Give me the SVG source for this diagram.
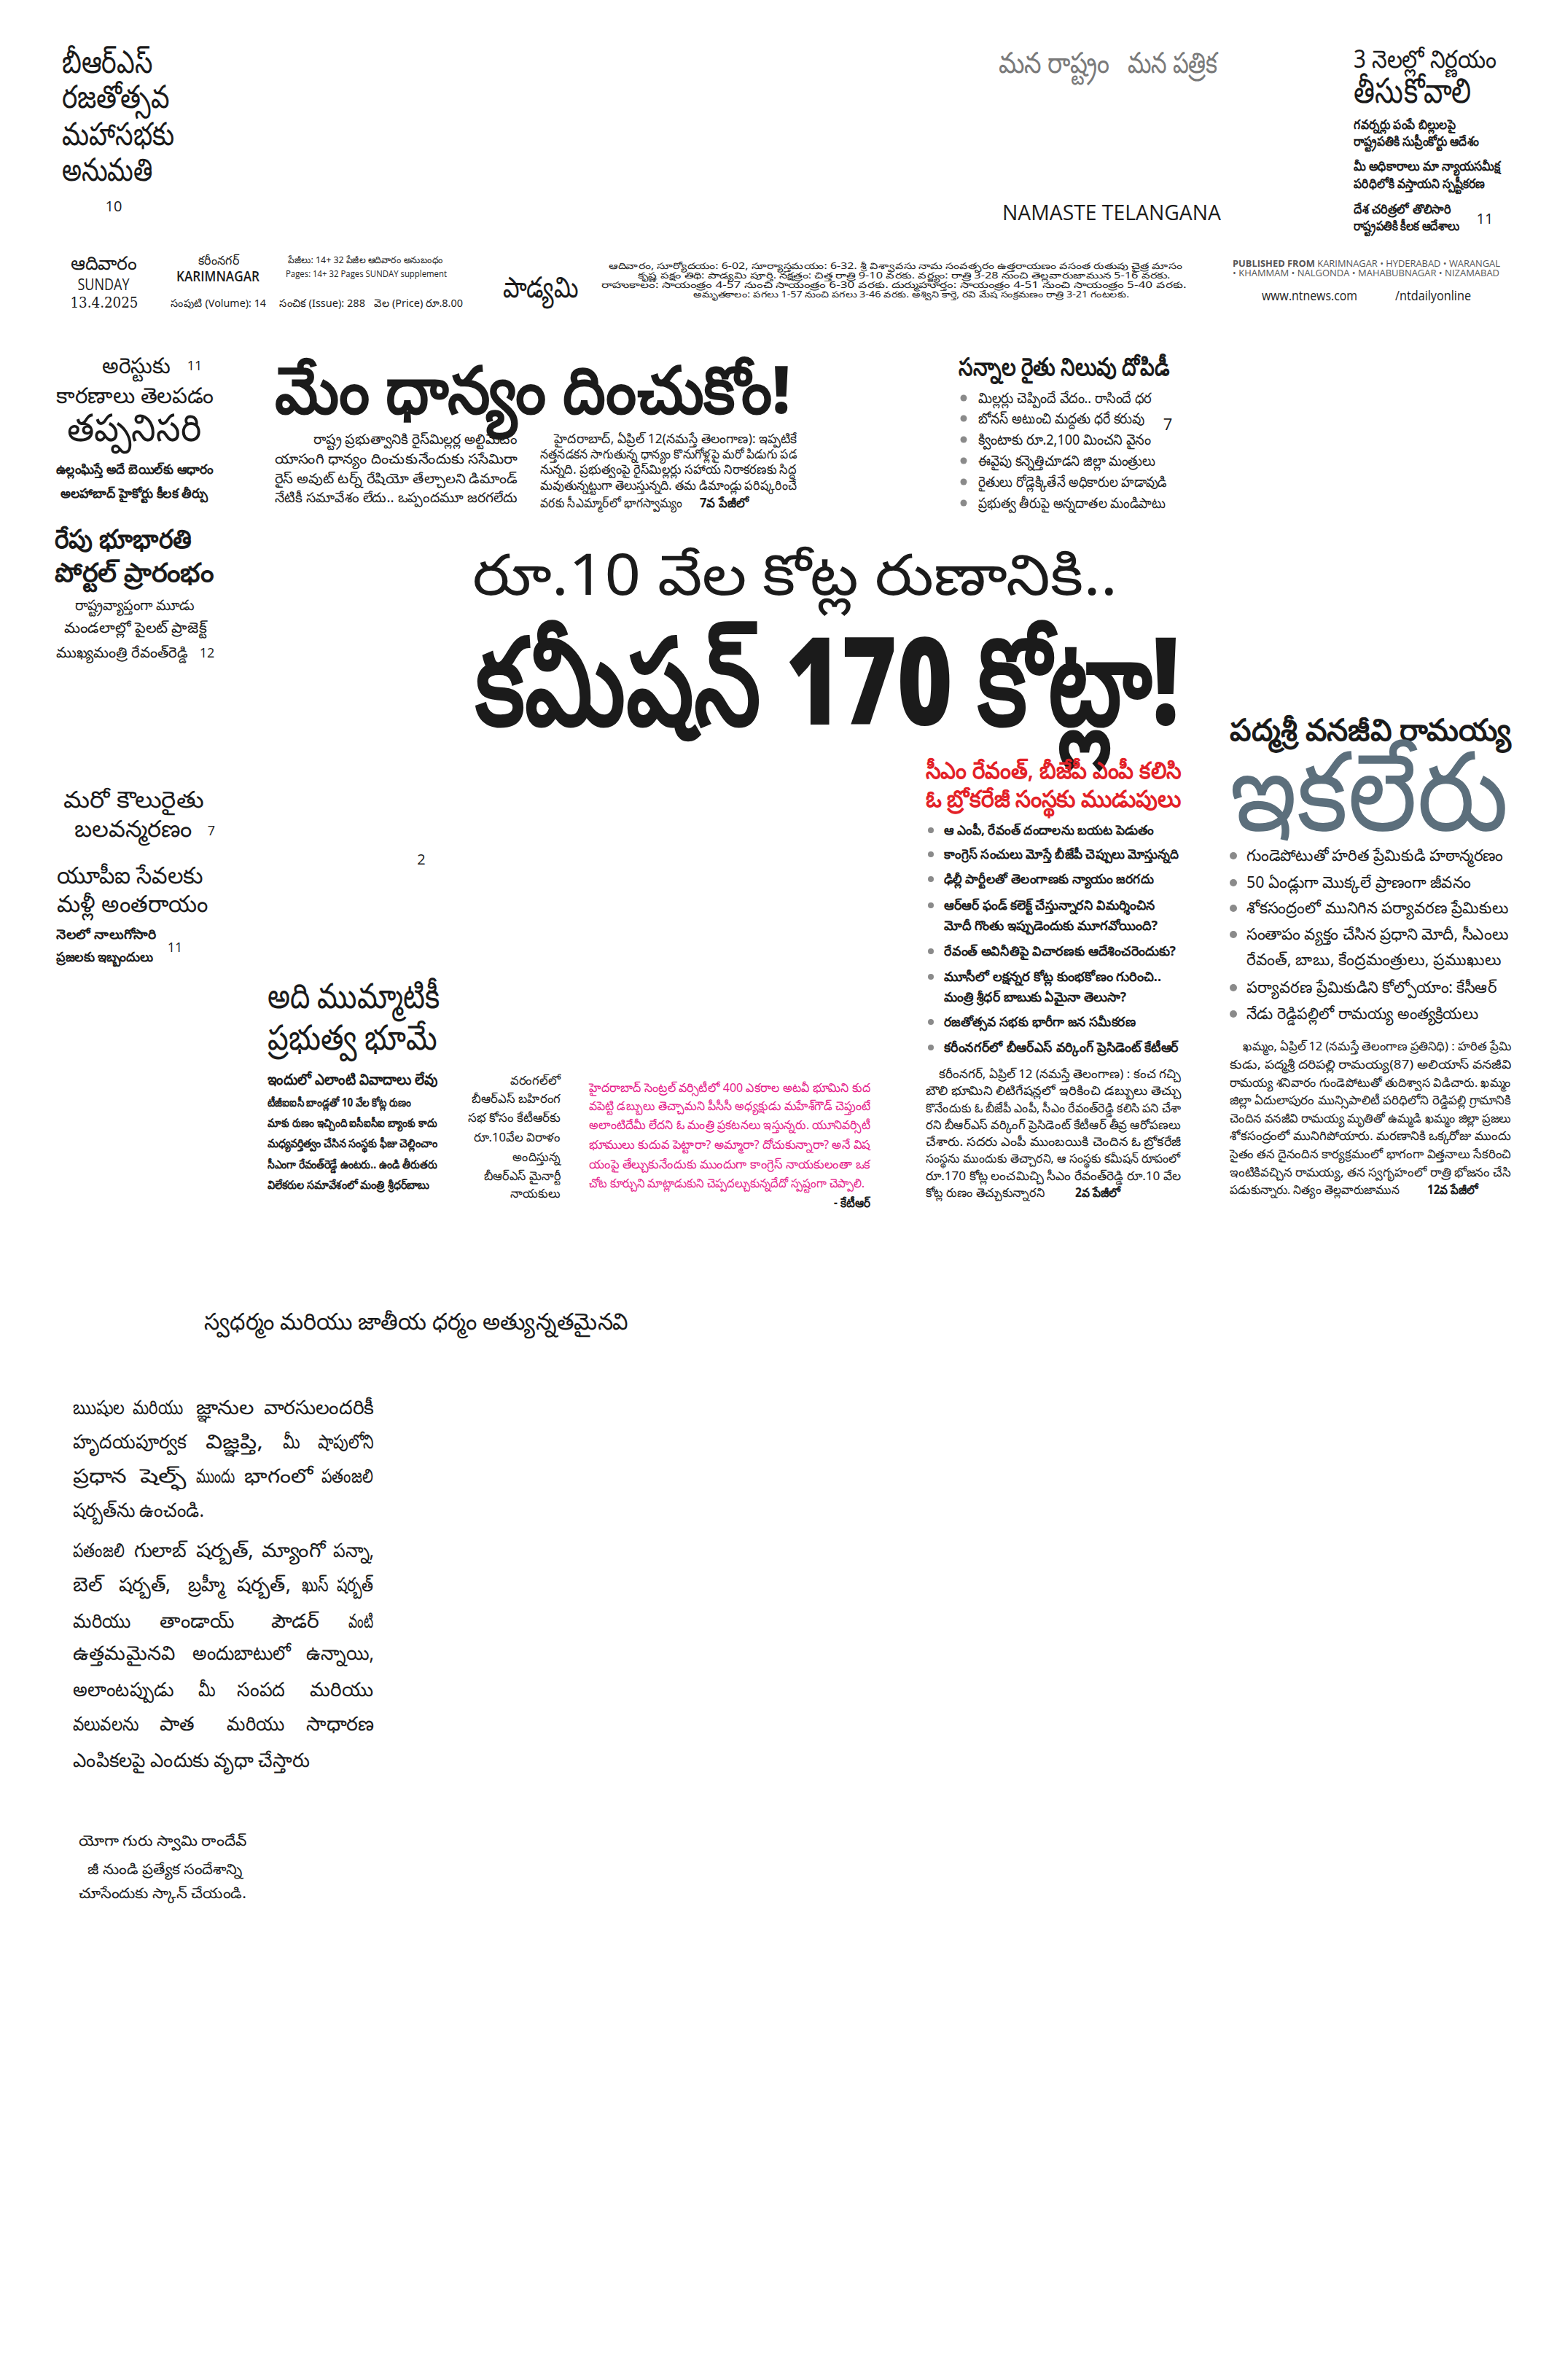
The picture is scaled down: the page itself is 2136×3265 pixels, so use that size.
<svg xmlns="http://www.w3.org/2000/svg" width="2136" height="3265" viewBox="0 0 2136 3265">
<style>
text{font-family:"Noto Sans","DejaVu Sans",sans-serif;fill:#1b1b1b}
.b{font-weight:700}
.k{font-weight:900}
.l{font-weight:400}
.m{text-anchor:middle}
.e{text-anchor:end}
.g{fill:#7a7a7a}
.r{fill:#e32127}
.p{fill:#e5198a}
.s{fill:#5c6f7c}
.lat{font-family:"Open Sans","Liberation Sans",sans-serif}
.ser{font-family:"DejaVu Serif","Liberation Serif",serif}
.dot{fill:#8a8a8a}
</style>
<rect x="0" y="0" width="2136" height="3265" fill="#ffffff"/>

<g id="masthead-left" class="l" font-size="44">
<text x="85" y="100" textLength="124" lengthAdjust="spacingAndGlyphs">బీఆర్ఎస్</text>
<text x="85" y="148" textLength="147" lengthAdjust="spacingAndGlyphs">రజతోత్సవ</text>
<text x="85" y="199" textLength="154" lengthAdjust="spacingAndGlyphs">మహాసభకు</text>
<text x="85" y="248" textLength="124" lengthAdjust="spacingAndGlyphs">అనుమతి</text>
<text x="156" y="290" class="m lat" font-size="20">10</text>
</g>

<g id="masthead-center">
<text x="1370" y="100" class="g l" font-size="40" textLength="152" lengthAdjust="spacingAndGlyphs">మన రాష్ట్రం</text>
<text x="1547" y="100" class="g l" font-size="40" textLength="123" lengthAdjust="spacingAndGlyphs">మన పత్రిక</text>
<text x="1375" y="302" class="lat" font-size="29" fill="#222" textLength="300" lengthAdjust="spacingAndGlyphs">NAMASTE TELANGANA</text>
</g>

<g id="masthead-right">
<text x="1857" y="93" font-size="34" textLength="196" lengthAdjust="spacingAndGlyphs">3 నెలల్లో నిర్ణయం</text>
<text x="1857" y="141" font-size="48" textLength="161" lengthAdjust="spacingAndGlyphs">తీసుకోవాలి</text>
<g class="b" font-size="18">
<text x="1857" y="177" textLength="140" lengthAdjust="spacingAndGlyphs">గవర్నర్లు పంపే బిల్లులపై</text>
<text x="1857" y="200" textLength="172" lengthAdjust="spacingAndGlyphs">రాష్ట్రపతికి సుప్రీంకోర్టు ఆదేశం</text>
<text x="1857" y="234" textLength="201" lengthAdjust="spacingAndGlyphs">మీ అధికారాలు మా న్యాయసమీక్ష</text>
<text x="1857" y="258" textLength="180" lengthAdjust="spacingAndGlyphs">పరిధిలోకి వస్తాయని స్పష్టీకరణ</text>
<text x="1857" y="293" textLength="134" lengthAdjust="spacingAndGlyphs">దేశ చరిత్రలో తొలిసారి</text>
<text x="1857" y="316" textLength="145" lengthAdjust="spacingAndGlyphs">రాష్ట్రపతికి కీలక ఆదేశాలు</text>
</g>
<text x="2037" y="307" class="m lat" font-size="20">11</text>
</g>

<g id="dateline">
<text x="142" y="370" class="m" font-size="26" textLength="91" lengthAdjust="spacingAndGlyphs">ఆదివారం</text>
<text x="142" y="398" class="m lat" font-size="21" font-weight="500" textLength="71" lengthAdjust="spacingAndGlyphs">SUNDAY</text>
<text x="143" y="422" class="m ser" font-size="21" textLength="93" lengthAdjust="spacingAndGlyphs">13.4.2025</text>
<text x="300" y="363" class="m" font-size="17" textLength="56" lengthAdjust="spacingAndGlyphs">కరీంనగర్</text>
<text x="299" y="386" class="m lat" font-size="20" font-weight="600" textLength="114" lengthAdjust="spacingAndGlyphs">KARIMNAGAR</text>
<text x="395" y="361" font-size="13" textLength="213" lengthAdjust="spacingAndGlyphs">పేజీలు: 14+ 32 పేజీల ఆదివారం అనుబంధం</text>
<text x="392" y="380" class="lat" font-size="13" textLength="221" lengthAdjust="spacingAndGlyphs">Pages: 14+ 32 Pages SUNDAY supplement</text>
<text x="234" y="421" font-size="15" textLength="131" lengthAdjust="spacingAndGlyphs">సంపుటి (Volume): 14</text>
<text x="383" y="421" font-size="15" textLength="118" lengthAdjust="spacingAndGlyphs">సంచిక (Issue): 288</text>
<text x="513" y="421" font-size="15" textLength="122" lengthAdjust="spacingAndGlyphs">వెల (Price) రూ.8.00</text>
<text x="690" y="408" class="l" font-size="40" textLength="103" lengthAdjust="spacingAndGlyphs">పాడ్యమి</text>
<g class="m" font-size="12">
<text x="1228" y="369" textLength="787" lengthAdjust="spacingAndGlyphs">ఆదివారం, సూర్యోదయం: 6-02, సూర్యాస్తమయం: 6-32. శ్రీ విశ్వావసు నామ సంవత్సరం ఉత్తరాయణం వసంత రుతువు చైత్ర మాసం</text>
<text x="1240" y="382" textLength="731" lengthAdjust="spacingAndGlyphs">కృష్ణ పక్షం తిథి: పాడ్యమి పూర్తి. నక్షత్రం: చిత్త రాత్రి 9-10 వరకు. వర్జ్యం: రాత్రి 3-28 నుంచి తెల్లవారుజామున 5-16 వరకు.</text>
<text x="1226" y="395" textLength="803" lengthAdjust="spacingAndGlyphs">రాహుకాలం: సాయంత్రం 4-57 నుంచి సాయంత్రం 6-30 వరకు. దుర్ముహూర్తం: సాయంత్రం 4-51 నుంచి సాయంత్రం 5-40 వరకు.</text>
<text x="1250" y="408" textLength="598" lengthAdjust="spacingAndGlyphs">అమృతకాలం: పగలు 1-57 నుంచి పగలు 3-46 వరకు. అశ్విని కార్తె, రవి మేష సంక్రమణం రాత్రి 3-21 గంటలకు.</text>
</g>
<text x="1691" y="366" class="lat" font-size="13" style="fill:#555" textLength="367" lengthAdjust="spacingAndGlyphs"><tspan font-weight="700">PUBLISHED FROM</tspan> KARIMNAGAR • HYDERABAD • WARANGAL</text>
<text x="1691" y="379" class="lat" font-size="13" style="fill:#555" textLength="366" lengthAdjust="spacingAndGlyphs">• KHAMMAM • NALGONDA • MAHABUBNAGAR • NIZAMABAD</text>
<text x="1731" y="412" class="lat" font-size="18" textLength="131" lengthAdjust="spacingAndGlyphs">www.ntnews.com</text>
<text x="1914" y="412" class="lat" font-size="18" textLength="104" lengthAdjust="spacingAndGlyphs">/ntdailyonline</text>
</g>

<g id="left-column">
<text x="140" y="512" class="l" font-size="30" textLength="93" lengthAdjust="spacingAndGlyphs">అరెస్టుకు</text>
<text x="267" y="508" class="m lat" font-size="18">11</text>
<text x="77" y="553" class="l" font-size="30" textLength="216" lengthAdjust="spacingAndGlyphs">కారణాలు తెలపడం</text>
<text x="92" y="605" font-size="52" textLength="185" lengthAdjust="spacingAndGlyphs">తప్పనిసరి</text>
<text x="77" y="650" class="b" font-size="18" textLength="216" lengthAdjust="spacingAndGlyphs">ఉల్లంఘిస్తే అదే బెయిల్‌కు ఆధారం</text>
<text x="83" y="683" class="b" font-size="18" textLength="202" lengthAdjust="spacingAndGlyphs">అలహాబాద్ హైకోర్టు కీలక తీర్పు</text>
<text x="75" y="752" class="k" font-size="36" textLength="188" lengthAdjust="spacingAndGlyphs">రేపు భూభారతి</text>
<text x="75" y="798" class="k" font-size="36" textLength="218" lengthAdjust="spacingAndGlyphs">పోర్టల్ ప్రారంభం</text>
<text x="103" y="837" class="l" font-size="20" textLength="164" lengthAdjust="spacingAndGlyphs">రాష్ట్రవ్యాప్తంగా మూడు</text>
<text x="88" y="868" class="l" font-size="20" textLength="195" lengthAdjust="spacingAndGlyphs">మండలాల్లో పైలట్ ప్రాజెక్ట్</text>
<text x="77" y="902" class="l" font-size="20" textLength="181" lengthAdjust="spacingAndGlyphs">ముఖ్యమంత్రి రేవంత్‌రెడ్డి</text>
<text x="284" y="902" class="m lat" font-size="18">12</text>
<text x="87" y="1108" class="l" font-size="32" textLength="193" lengthAdjust="spacingAndGlyphs">మరో కౌలురైతు</text>
<text x="102" y="1148" class="l" font-size="32" textLength="161" lengthAdjust="spacingAndGlyphs">బలవన్మరణం</text>
<text x="290" y="1146" class="m lat" font-size="18">7</text>
<text x="78" y="1212" class="l" font-size="32" textLength="200" lengthAdjust="spacingAndGlyphs">యూపీఐ సేవలకు</text>
<text x="78" y="1251" class="l" font-size="32" textLength="207" lengthAdjust="spacingAndGlyphs">మళ్లీ అంతరాయం</text>
<text x="77" y="1288" class="b" font-size="18" textLength="138" lengthAdjust="spacingAndGlyphs">నెలలో నాలుగోసారి</text>
<text x="77" y="1319" class="b" font-size="18" textLength="133" lengthAdjust="spacingAndGlyphs">ప్రజలకు ఇబ్బందులు</text>
<text x="240" y="1306" class="m lat" font-size="18">11</text>
</g>

<g id="story-paddy">
<text x="377" y="567" class="k" font-size="90" textLength="707" lengthAdjust="spacingAndGlyphs">మేం ధాన్యం దించుకోం!</text>
<g font-size="19">
<text x="430" y="609" textLength="280" lengthAdjust="spacingAndGlyphs">రాష్ట్ర ప్రభుత్వానికి రైస్‌మిల్లర్ల అల్టిమేటం</text>
<text x="377" y="636" textLength="333" lengthAdjust="spacingAndGlyphs">యాసంగి ధాన్యం దించుకునేందుకు ససేమిరా</text>
<text x="377" y="663" textLength="333" lengthAdjust="spacingAndGlyphs">రైస్ అవుట్ టర్న్ రేషియో తేల్చాలని డిమాండ్</text>
<text x="377" y="689" textLength="333" lengthAdjust="spacingAndGlyphs">నేటికీ సమావేశం లేదు.. ఒప్పందమూ జరగలేదు</text>
</g>
<g font-size="18">
<text x="760" y="608" textLength="333" lengthAdjust="spacingAndGlyphs">హైదరాబాద్, ఏప్రిల్ 12(నమస్తే తెలంగాణ): ఇప్పటికే</text>
<text x="741" y="629" textLength="352" lengthAdjust="spacingAndGlyphs">నత్తనడకన సాగుతున్న ధాన్యం కొనుగోళ్లపై మరో పిడుగు పడ</text>
<text x="741" y="650" textLength="352" lengthAdjust="spacingAndGlyphs">నున్నది. ప్రభుత్వంపై రైస్‌మిల్లర్లు సహాయ నిరాకరణకు సిద్ధ</text>
<text x="741" y="672" textLength="352" lengthAdjust="spacingAndGlyphs">మవుతున్నట్టుగా తెలుస్తున్నది. తమ డిమాండ్లు పరిష్కరించే</text>
<text x="741" y="696" textLength="195" lengthAdjust="spacingAndGlyphs">వరకు సీఎమ్మార్‌లో భాగస్వామ్యం</text>
<text x="960" y="696" class="b" textLength="67" lengthAdjust="spacingAndGlyphs">7వ పేజీలో</text>
</g>
</g>

<g id="story-sannalu">
<text x="1315" y="515" class="k" font-size="34" textLength="289" lengthAdjust="spacingAndGlyphs">సన్నాల రైతు నిలువు దోపిడీ</text>
<circle class="dot" cx="1322" cy="546" r="4.5"/>
<circle class="dot" cx="1322" cy="574" r="4.5"/>
<circle class="dot" cx="1322" cy="603" r="4.5"/>
<circle class="dot" cx="1322" cy="632" r="4.5"/>
<circle class="dot" cx="1322" cy="661" r="4.5"/>
<circle class="dot" cx="1322" cy="690" r="4.5"/>
<g class="l" font-size="20">
<text x="1342" y="553" textLength="238" lengthAdjust="spacingAndGlyphs">మిల్లర్లు చెప్పిందే వేదం.. రాసిందే ధర</text>
<text x="1342" y="581" textLength="228" lengthAdjust="spacingAndGlyphs">బోనస్ అటుంచి మద్దతు ధరే కరువు</text>
<text x="1342" y="610" textLength="237" lengthAdjust="spacingAndGlyphs">క్వింటాకు రూ.2,100 మించని వైనం</text>
<text x="1342" y="639" textLength="243" lengthAdjust="spacingAndGlyphs">ఈవైపు కన్నెత్తిచూడని జిల్లా మంత్రులు</text>
<text x="1342" y="668" textLength="259" lengthAdjust="spacingAndGlyphs">రైతులు రోడ్లెక్కితేనే అధికారుల హడావుడి</text>
<text x="1342" y="697" textLength="257" lengthAdjust="spacingAndGlyphs">ప్రభుత్వ తీరుపై అన్నదాతల మండిపాటు</text>
</g>
<text x="1602" y="590" class="m lat" font-size="22">7</text>
</g>

<g id="lead-headline">
<text x="648" y="816" font-size="78" textLength="885" lengthAdjust="spacingAndGlyphs">రూ.10 వేల కోట్ల రుణానికి..</text>
<text x="652" y="994" class="k" font-size="166" textLength="966" lengthAdjust="spacingAndGlyphs">కమీషన్ 170 కోట్లా!</text>
<text x="578" y="1186" class="m lat" font-size="20">2</text>
</g>

<g id="lead-story">
<text x="1270" y="1068" class="r" font-size="32" font-weight="600" textLength="350" lengthAdjust="spacingAndGlyphs">సీఎం రేవంత్, బీజేపీ ఎంపీ కలిసి</text>
<text x="1270" y="1107" class="r" font-size="32" font-weight="600" textLength="350" lengthAdjust="spacingAndGlyphs">ఓ బ్రోకరేజీ సంస్థకు ముడుపులు</text>
<circle class="dot" cx="1277" cy="1139" r="4"/>
<circle class="dot" cx="1277" cy="1172" r="4"/>
<circle class="dot" cx="1277" cy="1206" r="4"/>
<circle class="dot" cx="1277" cy="1242" r="4"/>
<circle class="dot" cx="1277" cy="1305" r="4"/>
<circle class="dot" cx="1277" cy="1340" r="4"/>
<circle class="dot" cx="1277" cy="1402" r="4"/>
<circle class="dot" cx="1277" cy="1437" r="4"/>
<g class="b" font-size="18">
<text x="1295" y="1145" textLength="288" lengthAdjust="spacingAndGlyphs">ఆ ఎంపీ, రేవంత్ దందాలను బయట పెడుతం</text>
<text x="1295" y="1178" textLength="322" lengthAdjust="spacingAndGlyphs">కాంగ్రెస్ సంచులు మోస్తే బీజేపీ చెప్పులు మోస్తున్నది</text>
<text x="1295" y="1212" textLength="288" lengthAdjust="spacingAndGlyphs">ఢిల్లీ పార్టీలతో తెలంగాణకు న్యాయం జరగదు</text>
<text x="1295" y="1248" textLength="290" lengthAdjust="spacingAndGlyphs">ఆర్‌ఆర్ ఫండ్ కలెక్ట్ చేస్తున్నారని విమర్శించిన</text>
<text x="1295" y="1276" textLength="293" lengthAdjust="spacingAndGlyphs">మోదీ గొంతు ఇప్పుడెందుకు మూగవోయింది?</text>
<text x="1295" y="1311" textLength="318" lengthAdjust="spacingAndGlyphs">రేవంత్ అవినీతిపై విచారణకు ఆదేశించరెందుకు?</text>
<text x="1295" y="1346" textLength="298" lengthAdjust="spacingAndGlyphs">మూసీలో లక్షన్నర కోట్ల కుంభకోణం గురించి..</text>
<text x="1295" y="1374" textLength="250" lengthAdjust="spacingAndGlyphs">మంత్రి శ్రీధర్ బాబుకు ఏమైనా తెలుసా?</text>
<text x="1295" y="1408" textLength="263" lengthAdjust="spacingAndGlyphs">రజతోత్సవ సభకు భారీగా జన సమీకరణ</text>
<text x="1295" y="1443" textLength="322" lengthAdjust="spacingAndGlyphs">కరీంనగర్‌లో బీఆర్‌ఎస్ వర్కింగ్ ప్రెసిడెంట్ కేటీఆర్</text>
</g>
<g class="l" font-size="17">
<text x="1288" y="1479" textLength="332" lengthAdjust="spacingAndGlyphs">కరీంనగర్, ఏప్రిల్ 12 (నమస్తే తెలంగాణ) : కంచ గచ్చి</text>
<text x="1270" y="1502" textLength="350" lengthAdjust="spacingAndGlyphs">బౌలి భూమిని లిటిగేషన్లలో ఇరికించి డబ్బులు తెచ్చు</text>
<text x="1270" y="1526" textLength="350" lengthAdjust="spacingAndGlyphs">కొనేందుకు ఓ బీజేపీ ఎంపీ, సీఎం రేవంత్‌రెడ్డి కలిసి పని చేశా</text>
<text x="1270" y="1549" textLength="350" lengthAdjust="spacingAndGlyphs">రని బీఆర్‌ఎస్ వర్కింగ్ ప్రెసిడెంట్ కేటీఆర్ తీవ్ర ఆరోపణలు</text>
<text x="1270" y="1572" textLength="350" lengthAdjust="spacingAndGlyphs">చేశారు. సదరు ఎంపీ ముంబయికి చెందిన ఓ బ్రోకరేజీ</text>
<text x="1270" y="1595" textLength="350" lengthAdjust="spacingAndGlyphs">సంస్థను ముందుకు తెచ్చారని, ఆ సంస్థకు కమీషన్ రూపంలో</text>
<text x="1270" y="1619" textLength="350" lengthAdjust="spacingAndGlyphs">రూ.170 కోట్ల లంచమిచ్చి సీఎం రేవంత్‌రెడ్డి రూ.10 వేల</text>
<text x="1270" y="1642" textLength="163" lengthAdjust="spacingAndGlyphs">కోట్ల రుణం తెచ్చుకున్నారని</text>
<text x="1475" y="1642" class="b" textLength="62" lengthAdjust="spacingAndGlyphs">2వ పేజీలో</text>
</g>
</g>

<g id="story-vanajeevi">
<text x="1687" y="1016" class="k" font-size="42" textLength="386" lengthAdjust="spacingAndGlyphs">పద్మశ్రీ వనజీవి రామయ్య</text>
<text x="1687" y="1139" class="s" font-size="150" font-weight="500" textLength="383" lengthAdjust="spacingAndGlyphs">ఇకలేరు</text>
<circle class="dot" cx="1692" cy="1174" r="5"/>
<circle class="dot" cx="1692" cy="1211" r="5"/>
<circle class="dot" cx="1692" cy="1246" r="5"/>
<circle class="dot" cx="1692" cy="1282" r="5"/>
<circle class="dot" cx="1692" cy="1355" r="5"/>
<circle class="dot" cx="1692" cy="1391" r="5"/>
<g class="l" font-size="22">
<text x="1710" y="1181" textLength="352" lengthAdjust="spacingAndGlyphs">గుండెపోటుతో హరిత ప్రేమికుడి హఠాన్మరణం</text>
<text x="1710" y="1218" textLength="308" lengthAdjust="spacingAndGlyphs">50 ఏండ్లుగా మొక్కలే ప్రాణంగా జీవనం</text>
<text x="1710" y="1253" textLength="360" lengthAdjust="spacingAndGlyphs">శోకసంద్రంలో మునిగిన పర్యావరణ ప్రేమికులు</text>
<text x="1710" y="1289" textLength="360" lengthAdjust="spacingAndGlyphs">సంతాపం వ్యక్తం చేసిన ప్రధాని మోదీ, సీఎంలు</text>
<text x="1710" y="1324" textLength="350" lengthAdjust="spacingAndGlyphs">రేవంత్, బాబు, కేంద్రమంత్రులు, ప్రముఖులు</text>
<text x="1710" y="1362" textLength="343" lengthAdjust="spacingAndGlyphs">పర్యావరణ ప్రేమికుడిని కోల్పోయాం: కేసీఆర్</text>
<text x="1710" y="1398" textLength="318" lengthAdjust="spacingAndGlyphs">నేడు రెడ్డిపల్లిలో రామయ్య అంత్యక్రియలు</text>
</g>
<g class="l" font-size="17">
<text x="1705" y="1441" textLength="368" lengthAdjust="spacingAndGlyphs">ఖమ్మం, ఏప్రిల్ 12 (నమస్తే తెలంగాణ ప్రతినిధి) : హరిత ప్రేమి</text>
<text x="1687" y="1466" textLength="386" lengthAdjust="spacingAndGlyphs">కుడు, పద్మశ్రీ దరిపల్లి రామయ్య(87) అలియాస్ వనజీవి</text>
<text x="1687" y="1491" textLength="386" lengthAdjust="spacingAndGlyphs">రామయ్య శనివారం గుండెపోటుతో తుదిశ్వాస విడిచారు. ఖమ్మం</text>
<text x="1687" y="1515" textLength="386" lengthAdjust="spacingAndGlyphs">జిల్లా ఏదులాపురం మున్సిపాలిటీ పరిధిలోని రెడ్డిపల్లి గ్రామానికి</text>
<text x="1687" y="1540" textLength="386" lengthAdjust="spacingAndGlyphs">చెందిన వనజీవి రామయ్య మృతితో ఉమ్మడి ఖమ్మం జిల్లా ప్రజలు</text>
<text x="1687" y="1564" textLength="386" lengthAdjust="spacingAndGlyphs">శోకసంద్రంలో మునిగిపోయారు. మరణానికి ఒక్కరోజు ముందు</text>
<text x="1687" y="1589" textLength="386" lengthAdjust="spacingAndGlyphs">సైతం తన దైనందిన కార్యక్రమంలో భాగంగా విత్తనాలు సేకరించి</text>
<text x="1687" y="1614" textLength="386" lengthAdjust="spacingAndGlyphs">ఇంటికివచ్చిన రామయ్య, తన స్వగృహంలో రాత్రి భోజనం చేసి</text>
<text x="1687" y="1638" textLength="233" lengthAdjust="spacingAndGlyphs">పడుకున్నారు. నిత్యం తెల్లవారుజామున</text>
<text x="1958" y="1638" class="b" textLength="70" lengthAdjust="spacingAndGlyphs">12వ పేజీలో</text>
</g>
</g>

<g id="story-land">
<text x="367" y="1383" class="l" font-size="48" textLength="236" lengthAdjust="spacingAndGlyphs">అది ముమ్మాటికీ</text>
<text x="367" y="1440" class="l" font-size="48" textLength="233" lengthAdjust="spacingAndGlyphs">ప్రభుత్వ భూమే</text>
<text x="367" y="1488" class="b" font-size="21" textLength="233" lengthAdjust="spacingAndGlyphs">ఇందులో ఎలాంటి వివాదాలు లేవు</text>
<g class="b" font-size="16">
<text x="367" y="1518" textLength="197" lengthAdjust="spacingAndGlyphs">టీజీఐఐసీ బాండ్లతో 10 వేల కోట్ల రుణం</text>
<text x="367" y="1546" textLength="233" lengthAdjust="spacingAndGlyphs">మాకు రుణం ఇచ్చింది ఐసీఐసీఐ బ్యాంకు కాదు</text>
<text x="367" y="1574" textLength="233" lengthAdjust="spacingAndGlyphs">మధ్యవర్తిత్వం చేసిన సంస్థకు ఫీజు చెల్లించాం</text>
<text x="367" y="1603" textLength="233" lengthAdjust="spacingAndGlyphs">సీఎంగా రేవంత్‌రెడ్డే ఉంటరు.. ఉండి తీరుతరు</text>
<text x="367" y="1631" textLength="222" lengthAdjust="spacingAndGlyphs">విలేకరుల సమావేశంలో మంత్రి శ్రీధర్‌బాబు</text>
</g>
</g>

<g id="photo-caption" class="e l" font-size="17">
<text x="769" y="1488" textLength="69" lengthAdjust="spacingAndGlyphs">వరంగల్‌లో</text>
<text x="769" y="1513" textLength="122" lengthAdjust="spacingAndGlyphs">బీఆర్‌ఎస్ బహిరంగ</text>
<text x="769" y="1539" textLength="127" lengthAdjust="spacingAndGlyphs">సభ కోసం కేటీఆర్‌కు</text>
<text x="769" y="1566" textLength="119" lengthAdjust="spacingAndGlyphs">రూ.10వేల విరాళం</text>
<text x="769" y="1593" textLength="66" lengthAdjust="spacingAndGlyphs">అందిస్తున్న</text>
<text x="769" y="1619" textLength="105" lengthAdjust="spacingAndGlyphs">బీఆర్‌ఎస్ మైనార్టీ</text>
<text x="769" y="1643" textLength="69" lengthAdjust="spacingAndGlyphs">నాయకులు</text>
</g>

<g id="quote-ktr" font-size="17">
<text x="808" y="1498" class="p" textLength="386" lengthAdjust="spacingAndGlyphs">హైదరాబాద్ సెంట్రల్ వర్సిటీలో 400 ఎకరాల అటవీ భూమిని కుద</text>
<text x="808" y="1523" class="p" textLength="386" lengthAdjust="spacingAndGlyphs">వపెట్టి డబ్బులు తెచ్చామని పీసీసీ అధ్యక్షుడు మహేశ్‌గౌడ్ చెప్తుంటే</text>
<text x="808" y="1549" class="p" textLength="386" lengthAdjust="spacingAndGlyphs">అలాంటిదేమీ లేదని ఓ మంత్రి ప్రకటనలు ఇస్తున్నరు. యూనివర్సిటీ</text>
<text x="808" y="1576" class="p" textLength="386" lengthAdjust="spacingAndGlyphs">భూములు కుదువ పెట్టారా? అమ్మారా? దోచుకున్నారా? అనే విష</text>
<text x="808" y="1603" class="p" textLength="386" lengthAdjust="spacingAndGlyphs">యంపై తేల్చుకునేందుకు ముందుగా కాంగ్రెస్ నాయకులంతా ఒక</text>
<text x="808" y="1629" class="p" textLength="378" lengthAdjust="spacingAndGlyphs">చోట కూర్చుని మాట్లాడుకుని చెప్పదల్చుకున్నదేదో స్పష్టంగా చెప్పాలి.</text>
<text x="1194" y="1656" class="b e" textLength="50" lengthAdjust="spacingAndGlyphs">- కేటీఆర్</text>
</g>

<g id="advert">
<text x="280" y="1824" font-size="32" textLength="582" lengthAdjust="spacingAndGlyphs">స్వధర్మం మరియు జాతీయ ధర్మం అత్యున్నతమైనవి</text>
<g font-size="27">
<text x="100" y="1940" textLength="71" lengthAdjust="spacingAndGlyphs">ఋషుల</text>
<text x="182" y="1940" textLength="69" lengthAdjust="spacingAndGlyphs">మరియు</text>
<text x="269" y="1940" textLength="79" lengthAdjust="spacingAndGlyphs">జ్ఞానుల</text>
<text x="362" y="1940" textLength="151" lengthAdjust="spacingAndGlyphs">వారసులందరికీ</text>
<text x="100" y="1987" textLength="156" lengthAdjust="spacingAndGlyphs">హృదయపూర్వక</text>
<text x="282" y="1987" textLength="79" lengthAdjust="spacingAndGlyphs">విజ్ఞప్తి,</text>
<text x="388" y="1987" textLength="24" lengthAdjust="spacingAndGlyphs">మీ</text>
<text x="436" y="1987" textLength="77" lengthAdjust="spacingAndGlyphs">షాపులోని</text>
<text x="100" y="2034" textLength="74" lengthAdjust="spacingAndGlyphs">ప్రధాన</text>
<text x="192" y="2034" textLength="63" lengthAdjust="spacingAndGlyphs">షెల్ఫ్</text>
<text x="269" y="2034" textLength="53" lengthAdjust="spacingAndGlyphs">ముందు</text>
<text x="335" y="2034" textLength="95" lengthAdjust="spacingAndGlyphs">భాగంలో</text>
<text x="441" y="2034" textLength="71" lengthAdjust="spacingAndGlyphs">పతంజలి</text>
<text x="100" y="2081" textLength="180" lengthAdjust="spacingAndGlyphs">షర్బత్‌ను ఉంచండి.</text>
<text x="100" y="2136" textLength="71" lengthAdjust="spacingAndGlyphs">పతంజలి</text>
<text x="184" y="2136" textLength="71" lengthAdjust="spacingAndGlyphs">గులాబ్</text>
<text x="269" y="2136" textLength="79" lengthAdjust="spacingAndGlyphs">షర్బత్,</text>
<text x="359" y="2136" textLength="87" lengthAdjust="spacingAndGlyphs">మ్యాంగో</text>
<text x="457" y="2136" textLength="56" lengthAdjust="spacingAndGlyphs">పన్నా,</text>
<text x="100" y="2183" textLength="40" lengthAdjust="spacingAndGlyphs">బెల్</text>
<text x="163" y="2183" textLength="71" lengthAdjust="spacingAndGlyphs">షర్బత్,</text>
<text x="258" y="2183" textLength="50" lengthAdjust="spacingAndGlyphs">బ్రహ్మీ</text>
<text x="325" y="2183" textLength="74" lengthAdjust="spacingAndGlyphs">షర్బత్,</text>
<text x="414" y="2183" textLength="37" lengthAdjust="spacingAndGlyphs">ఖుస్</text>
<text x="462" y="2183" textLength="50" lengthAdjust="spacingAndGlyphs">షర్బత్</text>
<text x="100" y="2233" textLength="79" lengthAdjust="spacingAndGlyphs">మరియు</text>
<text x="219" y="2233" textLength="103" lengthAdjust="spacingAndGlyphs">తాండాయ్</text>
<text x="372" y="2233" textLength="66" lengthAdjust="spacingAndGlyphs">పౌడర్</text>
<text x="478" y="2233" textLength="34" lengthAdjust="spacingAndGlyphs">వంటి</text>
<text x="100" y="2277" textLength="140" lengthAdjust="spacingAndGlyphs">ఉత్తమమైనవి</text>
<text x="264" y="2277" textLength="135" lengthAdjust="spacingAndGlyphs">అందుబాటులో</text>
<text x="420" y="2277" textLength="93" lengthAdjust="spacingAndGlyphs">ఉన్నాయి,</text>
<text x="100" y="2327" textLength="138" lengthAdjust="spacingAndGlyphs">అలాంటప్పుడు</text>
<text x="272" y="2327" textLength="24" lengthAdjust="spacingAndGlyphs">మీ</text>
<text x="325" y="2327" textLength="66" lengthAdjust="spacingAndGlyphs">సంపద</text>
<text x="425" y="2327" textLength="87" lengthAdjust="spacingAndGlyphs">మరియు</text>
<text x="100" y="2374" textLength="90" lengthAdjust="spacingAndGlyphs">వలువలను</text>
<text x="219" y="2374" textLength="48" lengthAdjust="spacingAndGlyphs">పాత</text>
<text x="311" y="2374" textLength="79" lengthAdjust="spacingAndGlyphs">మరియు</text>
<text x="420" y="2374" textLength="93" lengthAdjust="spacingAndGlyphs">సాధారణ</text>
<text x="100" y="2424" textLength="325" lengthAdjust="spacingAndGlyphs">ఎంపికలపై ఎందుకు వృధా చేస్తారు</text>
</g>
<g class="m l" font-size="20">
<text x="223" y="2532" textLength="230" lengthAdjust="spacingAndGlyphs">యోగా గురు స్వామి రాందేవ్</text>
<text x="226" y="2571" textLength="212" lengthAdjust="spacingAndGlyphs">జీ నుండి ప్రత్యేక సందేశాన్ని</text>
<text x="223" y="2604" textLength="230" lengthAdjust="spacingAndGlyphs">చూసేందుకు స్కాన్ చేయండి.</text>
</g>
</g>
</svg>
